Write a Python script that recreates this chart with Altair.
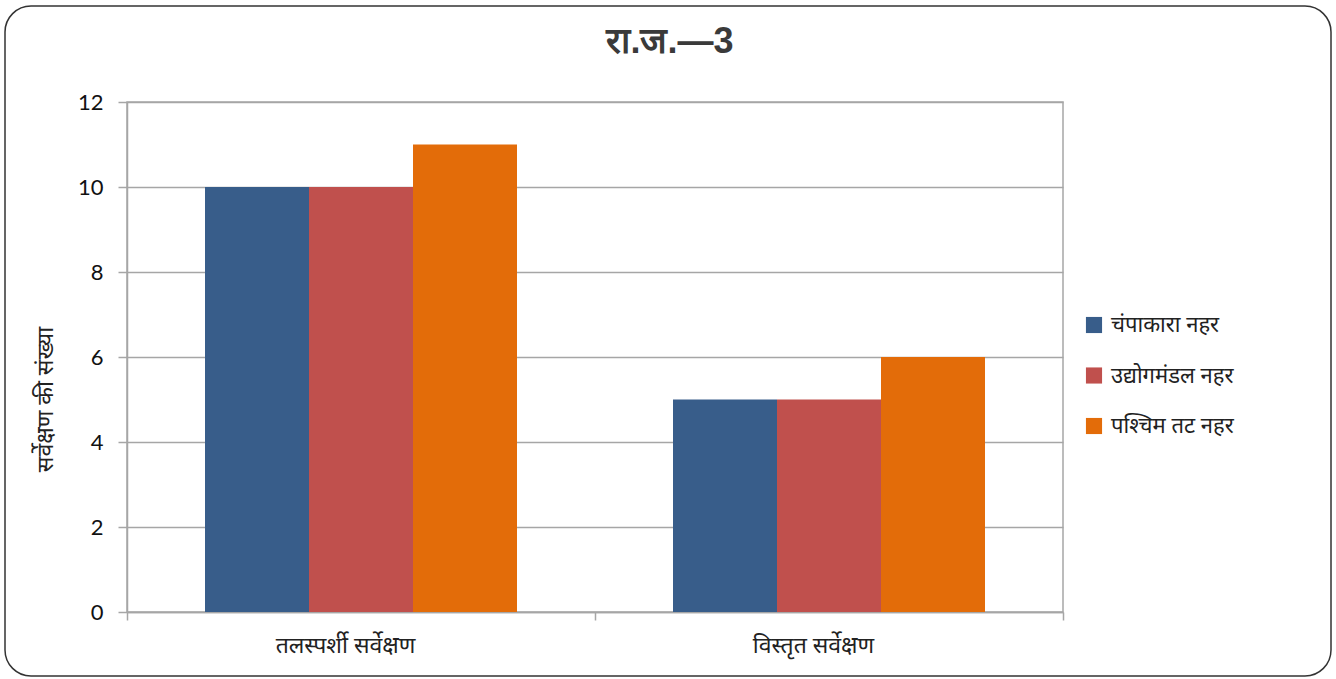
import altair as alt
import pandas as pd

# Survey counts per canal, for each survey type
categories = ["तलस्पर्शी सर्वेक्षण", "विस्तृत सर्वेक्षण"]
series = ["चंपाकारा नहर", "उद्योगमंडल नहर", "\u2002पश्चिम तट नहर"]
champakara = [10, 5]
udyogamandal = [10, 5]
paschim_tat = [11, 6]
colors = ["#385d8a", "#c0504d", "#e36c09"]

rows = []
for name, vals in zip(series, [champakara, udyogamandal, paschim_tat]):
    for cat, v in zip(categories, vals):
        rows.append({"सर्वेक्षण": cat, "नहर": name, "संख्या": v})
df = pd.DataFrame(rows)

deva = "Noto Sans"
grid_color = "#a6a6a6"

bars = alt.Chart(df).mark_bar().encode(
    x=alt.X(
        "सर्वेक्षण:N",
        sort=categories,
        scale=alt.Scale(paddingInner=0, paddingOuter=0),
        axis=alt.Axis(
            title=None,
            labelAngle=0,
            labelFont=deva,
            labelFontSize=23,
            labelColor="#222222",
            labelPadding=14,
            labelOffset=-16,
            tickBand="extent",
            tickSize=8,
            tickColor=grid_color,
            domainColor=grid_color,
            domainWidth=1.5,
            tickWidth=1.5,
        ),
    ),
    xOffset=alt.XOffset(
        "नहर:N",
        sort=series,
        scale=alt.Scale(domain=series, paddingInner=0, paddingOuter=0.75),
    ),
    y=alt.Y(
        "संख्या:Q",
        scale=alt.Scale(domain=[0, 12]),
        axis=alt.Axis(
            values=[0, 2, 4, 6, 8, 10, 12],
            title="सर्वेक्षण की संख्या",
            titleFont=deva,
            titleFontSize=23,
            titleFontWeight="normal",
            titleColor="#222222",
            titleX=-82,
            titleY=297,
            titleAngle=-90,
            titleBaseline="middle",
            labelFont="Lato",
            labelFontSize=22,
            labelColor="#111111",
            labelPadding=15,
            tickSize=9,
            tickColor=grid_color,
            domainColor=grid_color,
            domainWidth=1.5,
            tickWidth=1.5,
            gridColor=grid_color,
            gridWidth=1.5,
        ),
    ),
    color=alt.Color(
        "नहर:N",
        sort=series,
        scale=alt.Scale(domain=series, range=colors),
        legend=alt.Legend(
            title=None,
            orient="none",
            legendX=956,
            legendY=212,
            symbolType="square",
            symbolSize=260,
            symbolStrokeWidth=0,
            labelFont=deva,
            labelFontSize=22,
            labelColor="#222222",
            rowPadding=28.5,
            labelOffset=6,
        ),
    ),
)

# Rounded frame around the whole figure
frame = alt.Chart(alt.Data(values=[{}])).mark_rect(
    fill=None, stroke="#333333", strokeWidth=1.5, cornerRadius=26
).encode(
    x=alt.value(-122),
    x2=alt.value(1204),
    y=alt.value(-96),
    y2=alt.value(574),
)

chart = (
    alt.layer(frame, bars)
    .properties(
        width=936,
        height=510,
        title=alt.TitleParams(
            "रा.ज.—3",
            font="Liberation Sans",
            fontSize=36,
            fontWeight="bold",
            color="#3a3a3a",
            anchor="middle",
            dx=75,
            offset=-56,
        ),
        autosize=alt.AutoSizeParams(type="none"),
        padding={"left": 127, "top": 102, "right": 273, "bottom": 67},
        background="white",
    )
    .configure_view(stroke=grid_color, strokeWidth=1.5)
)

chart.save("out.html", embed_options={"renderer": "svg", "actions": False})
